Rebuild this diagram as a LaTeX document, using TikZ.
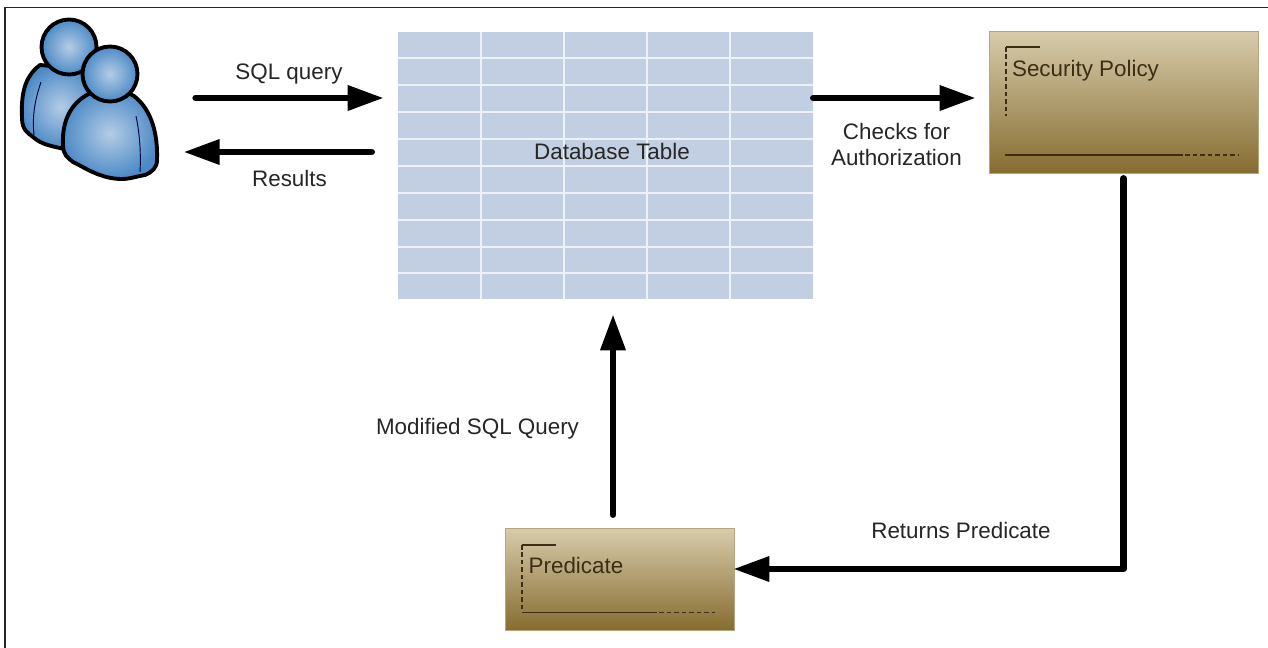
\documentclass[tikz,border=0pt]{standalone}
\usepackage{fontspec}
\setmainfont{Liberation Sans}
\usetikzlibrary{arrows.meta,calc,shadings}
\definecolor{tbl}{HTML}{C2CFE2}
\definecolor{tblline}{HTML}{EDF1F8}
\definecolor{tanTop}{HTML}{D8CCAC}
\definecolor{tanBot}{HTML}{866C30}
\definecolor{tanEdge}{HTML}{B3A67E}
\definecolor{markDark}{HTML}{3C2E14}
\definecolor{bluePale}{HTML}{B4CCE6}
\definecolor{blueDeep}{HTML}{4C8AC6}
\tikzset{
  x=0.75pt,y=-0.75pt,
  label/.style={font=\fontsize{16.8}{19.5}\selectfont,text=black!85,inner sep=0pt,align=center},
  flow/.style={line width=4.9pt,line cap=round,line join=round,-{Triangle[length=27pt,width=18pt]}},
  policy/.style={draw=tanEdge,line width=0.5pt,top color=tanTop,bottom color=tanBot,shading angle=0,inner sep=0pt},
  marksolid/.style={draw=markDark,line width=1.1pt},
  markdash/.style={draw=markDark,line width=1.1pt,dash pattern=on 3.4pt off 2.2pt},
  person/.style={draw=black,line width=2.9pt,line join=round,inner color=bluePale,outer color=blueDeep},
  crease/.style={draw=black!75!blue,line width=0.7pt},
}
\begin{document}
\begin{tikzpicture}
\useasboundingbox (0,0) rectangle (1268,647);
\fill[white] (0,0) rectangle (1268,647);
\draw[black!85,line width=1pt] (5,650) -- (5,7.5) -- (1270,7.5);

% Users
\node[minimum width=107pt,minimum height=125pt,inner sep=0pt] (users) at (89,98) {};
\draw[person] (40,65) .. controls (24,77) and (21,95) .. (22,118)
  .. controls (22,130) and (28,133) .. (33,137)
  .. controls (42,145) and (52,146) .. (64,149)
  -- (100,140) -- (95,70) -- cycle;
\draw[crease] (41,82) .. controls (35,100) and (32,115) .. (34,135);
\draw[person] (69,47) circle (27.5);
\draw[person] (85,96) .. controls (68,107) and (62,125) .. (63,145)
  .. controls (63,155) and (68,158) .. (73,162)
  .. controls (84,167) and (100,179) .. (122,179)
  .. controls (130,179) and (138,176) .. (145,175)
  .. controls (152,172) and (157,168) .. (157,160)
  .. controls (158,135) and (152,110) .. (134,96)
  .. controls (120,88) and (98,88) .. (85,96) -- cycle;
\draw[crease] (136,116) .. controls (140,135) and (141,155) .. (140,172);
\draw[person] (110,74) circle (27.5);

% Table
\node[minimum width=311.25pt,minimum height=200.25pt,inner sep=0pt,fill=tbl] (table) at (605.5,165.5) {};
\foreach \gx in {481,564,647,730}
  \draw[tblline,line width=1.6pt] (\gx,32) -- (\gx,299);
\foreach \gy in {58,85,112,139,166,193,220,247,273}
  \draw[tblline,line width=1.6pt] (398,\gy) -- (813,\gy);
\node[label] (tablelabel) at (612,151) {Database Table};

% Boxes
\node[policy,minimum width=201.75pt,minimum height=106.5pt] (security) at (1123.5,102) {};
\draw[marksolid] (1006,47) -- (1040,47);
\draw[markdash] (1006,47) -- (1006,116);
\draw[marksolid] (1005,155) -- (1178,155);
\draw[markdash] (1178,155) -- (1238,155);
\node[label,text=markDark] (securitylabel) at (1085.5,71) {Security Policy};

\node[policy,minimum width=171.75pt,minimum height=76.5pt] (predicate) at (619.5,579) {};
\draw[marksolid] (522,545) -- (556,545);
\draw[markdash] (522,545) -- (522,612);
\draw[marksolid] (522,612.5) -- (652,612.5);
\draw[markdash] (652,612.5) -- (715,612.5);
\node[label,text=markDark] (predicatelabel) at (576,565) {Predicate};

% Connectors
\draw[flow] ($(users.east)+(35,0)$) -- ($(table.west)+(-14,-67.5)$);
\draw[flow] ($(table.west)+(-26,-13.5)$) -- ($(users.east)+(23,54)$);
\draw[flow] ($(table.east)+(0,-67.5)$) -- ($(security.west)+(-13,-4)$);
\draw[flow] ($(security.south)+(0,5)$) |- ($(predicate.east)+(-1,-10)$);
\draw[flow] ($(predicate.north)+(-6.5,-13)$) -- ($(table.south)+(7.5,15)$);

% Labels
\node[label] (sqllabel) at (289,74) {SQL query};
\node[label] (resultslabel) at (289.5,178) {Results};
\node[label] (checkslabel) at (896.5,144) {Checks for\\Authorization};
\node[label] (modlabel) at (477.5,429) {Modified SQL Query};
\node[label] (returnslabel) at (961,530) {Returns Predicate};
\end{tikzpicture}
\end{document}
